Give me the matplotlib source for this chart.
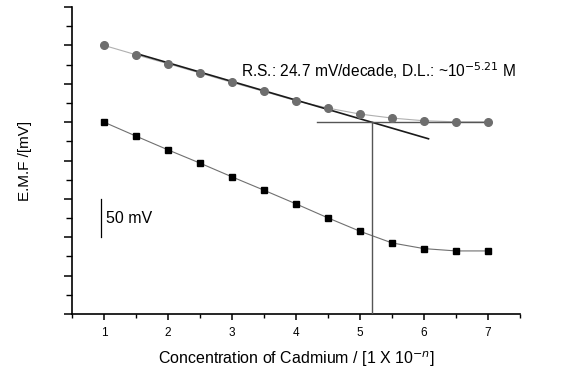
import numpy as np
import matplotlib
matplotlib.use("Agg")
import matplotlib.pyplot as plt
from matplotlib.ticker import MultipleLocator, NullFormatter

plt.rcParams['font.family'] = ['Liberation Sans', 'DejaVu Sans']

# pCd (n in 1 x 10^-n) and measured potentials in mV
conc = [1, 1.5, 2, 2.5, 3, 3.5, 4, 4.5, 5, 5.5, 6, 6.5, 7]
emf_circle = [350.0, 337.8, 326.1, 314.0, 301.7, 290.0, 277.8, 268.3, 260.5, 255.3, 251.8, 250.4, 250.4]
emf_square = [250.0, 231.8, 213.9, 196.6, 178.7, 161.3, 143.5, 125.2, 107.8, 92.6, 85.2, 82.2, 82.2]

# calibration fit and detection limit construction
fit_x = [1.48, 6.07]
fit_y = [340.0, 228.3]
plateau_x = [4.33, 7.0]
plateau_y = [250.0, 250.0]
dl_x = 5.18
scale_bar_y = [100, 150]

fig = plt.figure(figsize=(5.61, 3.69), dpi=100)
ax = fig.add_axes([0.1283, 0.149, 0.7987, 0.832])

ax.plot(conc, emf_circle, color='#b0b0b0', lw=0.8, zorder=2)
ax.plot(conc, emf_circle, 'o', color='#6e6e6e', ms=5.5, mec='#6e6e6e', zorder=4)
ax.plot(conc, emf_square, color='#707070', lw=0.8, zorder=2)
ax.plot(conc, emf_square, 's', color='black', ms=5, mec='black', zorder=4)

ax.plot(fit_x, fit_y, color='#1a1a1a', lw=1.2, zorder=3)
ax.plot(plateau_x, plateau_y, color='#555555', lw=1.0, zorder=3)
ax.plot([dl_x, dl_x], [0, 250], color='#555555', lw=1.0, zorder=3)

# 50 mV scale bar
ax.plot([0.953, 0.953], scale_bar_y, color='black', lw=0.9)
ax.text(1.03, 125, "50 mV", fontsize=11.5, va='center', ha='left')

ax.text(3.14, 317, "R.S.: 24.7 mV/decade, D.L.: ~10$^{-5.21}$ M",
        fontsize=11.2, va='center', ha='left')

ax.set_xlim(0.5, 7.5)
ax.set_ylim(0, 400)
ax.xaxis.set_major_locator(MultipleLocator(1))
ax.xaxis.set_minor_locator(MultipleLocator(0.5))
ax.yaxis.set_major_locator(MultipleLocator(50))
ax.yaxis.set_minor_locator(MultipleLocator(25))
ax.yaxis.set_major_formatter(NullFormatter())

ax.spines['top'].set_visible(False)
ax.spines['right'].set_visible(False)
ax.spines['left'].set_linewidth(1.2)
ax.spines['bottom'].set_linewidth(1.2)
ax.tick_params(axis='y', which='major', length=6, width=1.1, direction='out')
ax.tick_params(axis='y', which='minor', length=4, width=1.0, direction='out')
ax.tick_params(axis='x', which='major', length=4, width=1.1, direction='out', labelsize=8.5, pad=5)
ax.tick_params(axis='x', which='minor', length=3, width=1.0, direction='out')

ax.set_xlabel("Concentration of Cadmium / [1 X 10$^{-n}$]", fontsize=11.5, labelpad=8)
ax.set_ylabel("E.M.F /[mV]", fontsize=11, labelpad=19)

fig.savefig("out.png", dpi=100)
